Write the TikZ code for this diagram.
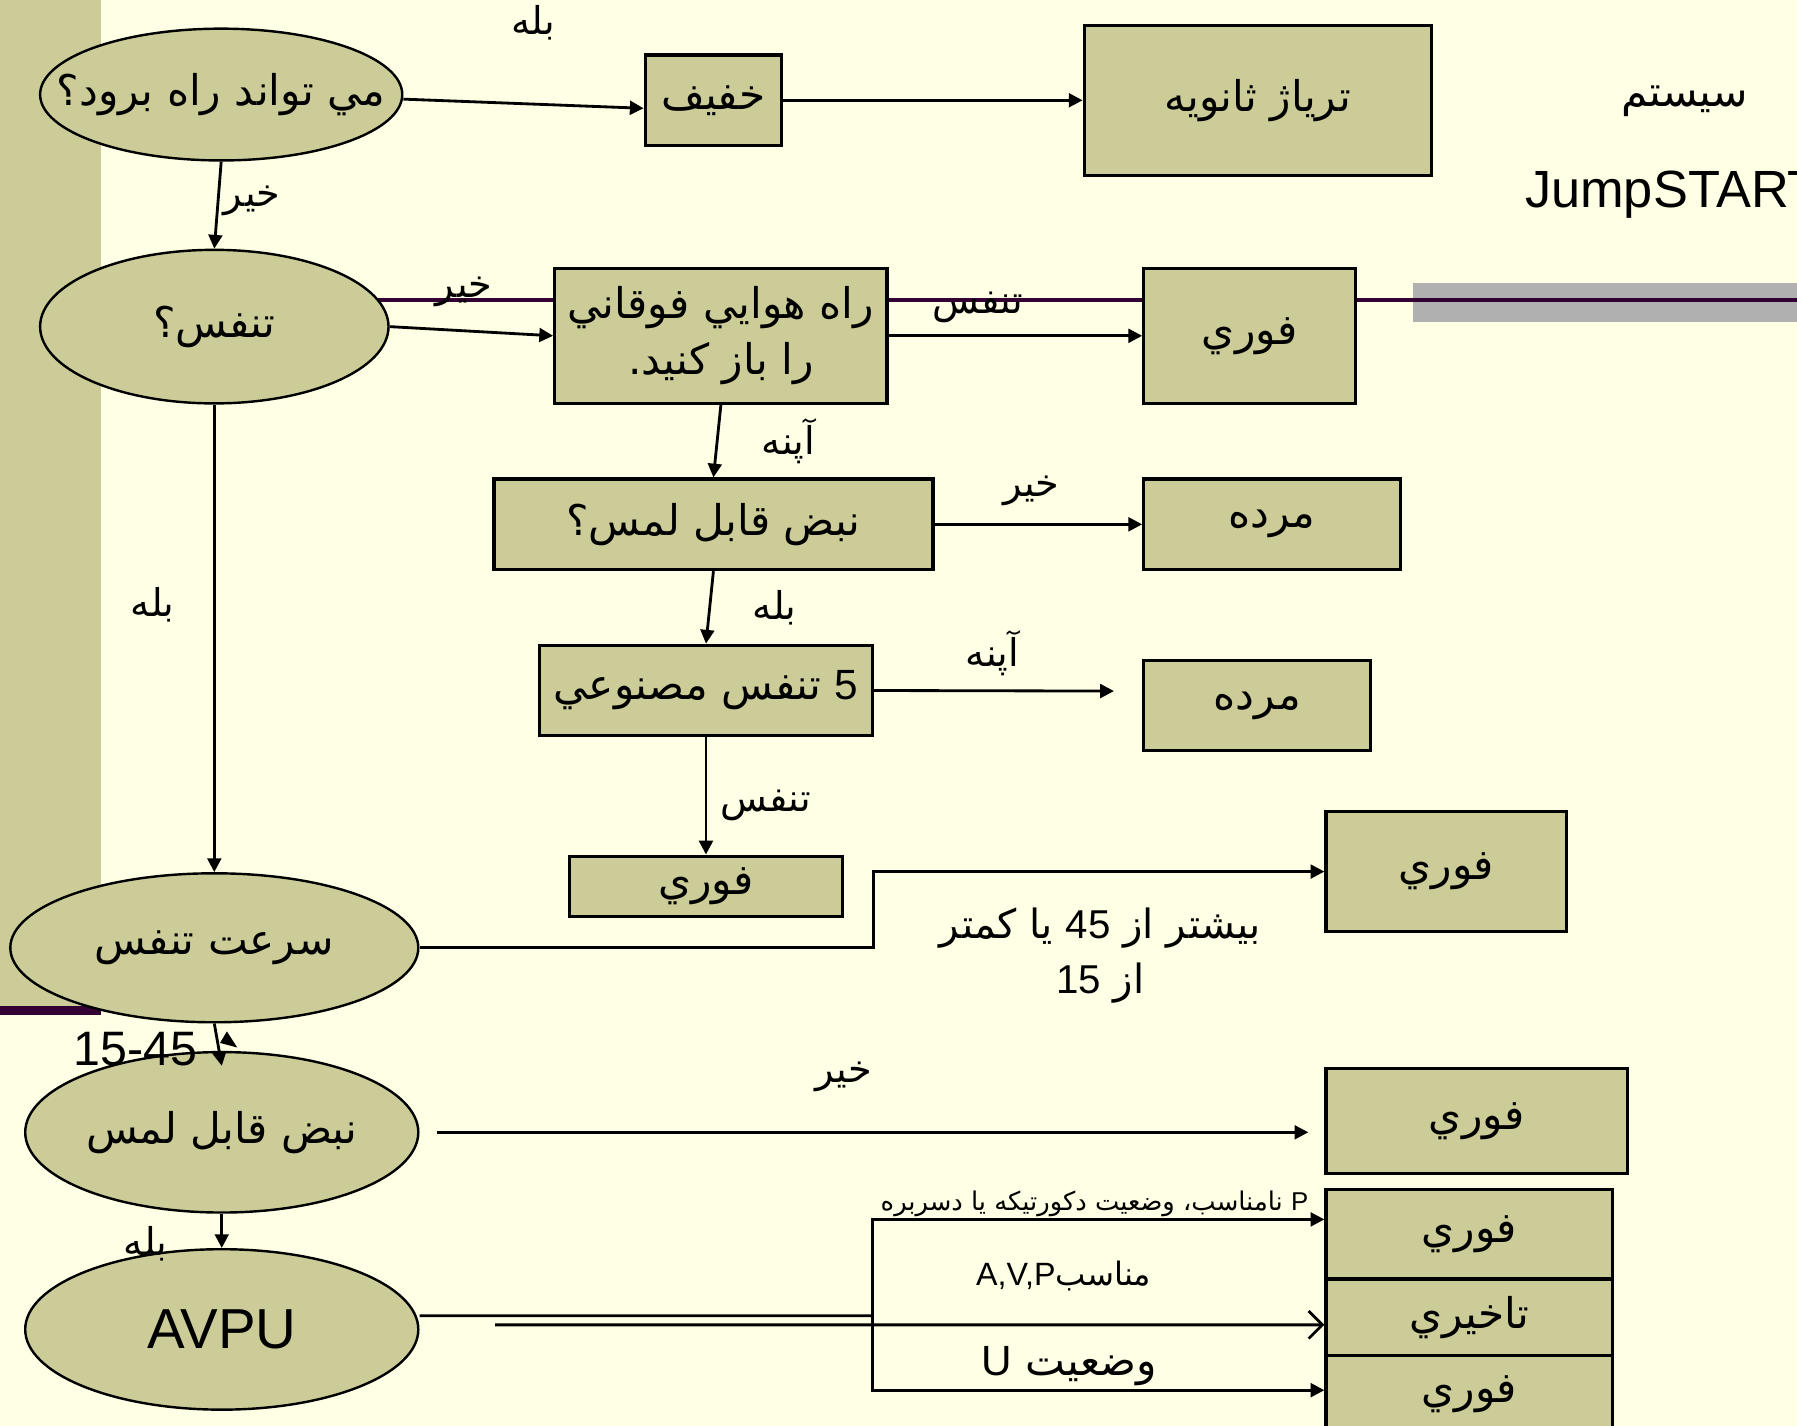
\documentclass[tikz,border=0pt]{standalone}
\usepackage{fontspec}
\setmainfont{Liberation Sans}
\newfontfamily\arabicfont[Script=Arabic]{DejaVu Sans}
\TeXXeTstate=1
\usetikzlibrary{shapes.geometric,arrows.meta}
\definecolor{slidebg}{RGB}{255,255,229}
\definecolor{olive}{RGB}{204,204,153}
\definecolor{plum}{RGB}{51,0,51}
\definecolor{bandgray}{RGB}{176,176,176}
\newcommand{\fatxt}[1]{{\arabicfont\beginR #1\endR}}
\newcommand{\lat}[1]{\beginL{\rmfamily #1}\endL{}}
\begin{document}
\begin{tikzpicture}[
  oval/.style={ellipse,draw,fill=olive,inner sep=0pt,line width=0.6pt,font=\fontsize{10.5}{14}\selectfont},
  tbox/.style={rectangle,draw,fill=olive,inner sep=0pt,line width=0.8pt,font=\fontsize{10.5}{14}\selectfont},
  arr/.style={line width=0.7pt,-{Triangle[length=1.2mm,width=1.2mm]}},
  lbl/.style={inner sep=0pt,font=\fontsize{9.5}{11}\selectfont},
  txt/.style={inner sep=0pt,font=\fontsize{10.5}{13.6}\selectfont}
]
\useasboundingbox (0,0) rectangle (15.68,-12.44);
\fill[slidebg] (0,0) rectangle (15.68,-12.44);
\fill[olive] (0,0) rectangle (0.88,-8.78);
\fill[plum] (0,-8.78) rectangle (0.88,-8.86);
\fill[bandgray] (12.33,-2.47) rectangle (15.68,-2.81);
\draw[plum,line width=1pt] (3.3,-2.62) -- (15.68,-2.62);

\node[oval,minimum width=3.16cm,minimum height=1.15cm] (walk) at (1.93,-0.825) {\makebox[0pt]{\fatxt{مي تواند راه برود؟}}};
\node[tbox,minimum width=1.19cm,minimum height=0.79cm] (mild) at (6.225,-0.875) {\fatxt{خفيف}};
\node[tbox,minimum width=3.03cm,minimum height=1.31cm] (triage) at (10.975,-0.875) {\fatxt{ترياژ ثانويه}};
\node[txt] (sys) at (14.70,-0.88) {\fatxt{سيستم}};
\node[txt,anchor=west,font=\fontsize{13}{15}\selectfont] (jump) at (13.30,-1.70) {JumpSTART};

\node[oval,minimum width=3.04cm,minimum height=1.34cm] (breath) at (1.87,-2.85) {\makebox[0pt]{\fatxt{تنفس؟}}};
\node[tbox,minimum width=2.9cm,minimum height=1.18cm,align=center] (airway) at (6.29,-2.93) {\fatxt{راه هوايي فوقاني}\\\fatxt{را باز كنيد.}};
\node[tbox,minimum width=1.85cm,minimum height=1.18cm] (urg1) at (10.905,-2.93) {\fatxt{فوري}};
\node[tbox,minimum width=3.83cm,minimum height=0.79cm] (pulseq) at (6.225,-4.575) {\fatxt{نبض قابل لمس؟}};
\node[tbox,minimum width=2.24cm,minimum height=0.79cm] (dead1) at (11.10,-4.575) {\fatxt{مرده}};
\node[tbox,minimum width=2.9cm,minimum height=0.79cm] (rescue) at (6.16,-6.025) {\fatxt{\lat{5} تنفس مصنوعي}};
\node[tbox,minimum width=1.98cm,minimum height=0.79cm] (dead2) at (10.97,-6.155) {\fatxt{مرده}};
\node[tbox,minimum width=2.38cm,minimum height=0.53cm] (urg2) at (6.16,-7.735) {\fatxt{فوري}};

\node[oval,minimum width=3.56cm,minimum height=1.30cm] (rate) at (1.87,-8.27) {\makebox[0pt]{\fatxt{سرعت تنفس}}};
\node[tbox,minimum width=2.10cm,minimum height=1.05cm] (urg3) at (12.62,-7.605) {\fatxt{فوري}};
\node[oval,minimum width=3.43cm,minimum height=1.40cm] (pulse) at (1.935,-9.88) {\makebox[0pt]{\fatxt{نبض قابل لمس}}};
\node[tbox,minimum width=2.63cm,minimum height=0.92cm] (urg4) at (12.885,-9.78) {\fatxt{فوري}};
\node[oval,minimum width=3.43cm,minimum height=1.40cm,font=\fontsize{14}{16}\selectfont] (avpu) at (1.935,-11.60) {\makebox[0pt]{AVPU}};
\node[tbox,minimum width=2.50cm,minimum height=0.78cm] (urg5) at (12.82,-10.77) {\fatxt{فوري}};
\node[tbox,minimum width=2.50cm,minimum height=0.67cm] (delay) at (12.82,-11.495) {\fatxt{تاخيري}};
\node[tbox,minimum width=2.50cm,minimum height=0.67cm] (urg6) at (12.82,-12.165) {\fatxt{فوري}};

\draw[arr] ([yshift=-0.4mm]walk.east) -- ([yshift=-0.7mm]mild.west);
\draw[arr] (mild.east) -- (triage.west);
\draw[arr] (walk.south) -- (breath.north);
\draw[arr] (breath.east) -- (airway.west);
\draw[arr] (airway.east) -- (urg1.west);
\draw[arr] (airway.south) -- (pulseq.north);
\draw[arr] (pulseq.east) -- (dead1.west);
\draw[arr] (pulseq.south) -- (rescue.north);
\coordinate (apnea-end) at (9.72,-6.03);
\draw[arr] (rescue.east) -- (apnea-end);
\draw[arr] (rescue.south) -- (urg2.north);
\draw[arr] (breath.south) -- (rate.north);
\draw[arr] (rate.east) -- ++(3.96,0) |- (urg3.west);
\draw[arr] (rate.south) -- ([yshift=-1.3mm]pulse.north);
\fill (1.98,-9.00) -- (1.92,-9.10) -- (2.07,-9.14) -- cycle;
\draw[arr] ([xshift=1.5mm]pulse.east) -- ([xshift=-1.4mm]urg4.west |- pulse.east);
\draw[arr] (pulse.south) -- (avpu.north);
\coordinate (split) at (7.61,-11.48);
\draw[line width=0.7pt] ([yshift=1.2mm]avpu.east) -- (split);
\draw[arr] (split) |- ([yshift=1.3mm]urg5.west);
\draw[arr] (split) |- ([yshift=0.35mm]urg6.west);
\coordinate (delay-start) at (4.32,-11.56);
\draw[line width=0.7pt,-{Straight Barb[length=1.2mm,width=2.4mm]}] (delay-start) -- ([yshift=-0.65mm]delay.west);

\node[lbl] (l-yes1) at (4.65,-0.20) {\fatxt{بله}};
\node[lbl] (l-no1) at (2.20,-1.75) {\fatxt{خير}};
\node[lbl] (l-no2) at (4.05,-2.55) {\fatxt{خير}};
\node[lbl] (l-br1) at (8.53,-2.68) {\fatxt{تنفس}};
\node[lbl] (l-ap1) at (6.88,-3.85) {\fatxt{آپنه}};
\node[lbl] (l-no3) at (9.00,-4.28) {\fatxt{خير}};
\node[lbl] (l-yes2) at (6.76,-5.30) {\fatxt{بله}};
\node[lbl] (l-ap2) at (8.66,-5.70) {\fatxt{آپنه}};
\node[lbl] (l-br2) at (6.68,-7.03) {\fatxt{تنفس}};
\node[lbl] (l-yes3) at (1.33,-5.28) {\fatxt{بله}};
\node[txt,align=center,font=\fontsize{10}{13.6}\selectfont] (l-range) at (9.60,-8.34) {\fatxt{بيشتر از \lat{45} يا كمتر}\\\fatxt{از \lat{15}}};
\node[txt,font=\fontsize{12}{14}\selectfont] (l-norm) at (1.18,-9.15) {15-45};
\node[lbl] (l-no4) at (7.36,-9.40) {\fatxt{خير}};
\node[lbl] (l-yes4) at (1.27,-10.85) {\fatxt{بله}};
\node[inner sep=0pt,font=\fontsize{6.4}{8}\selectfont] (l-p) at (9.55,-10.50) {\fatxt{\lat{P} نامناسب، وضعيت دكورتيكه يا دسربره}};
\node[inner sep=0pt,font=\fontsize{8}{10}\selectfont] (l-avp) at (9.28,-11.13) {\fatxt{مناسب\lat{A,V,P}}};
\node[txt] (l-u) at (9.33,-11.92) {\fatxt{وضعيت \lat{U}}};
\end{tikzpicture}
\end{document}
